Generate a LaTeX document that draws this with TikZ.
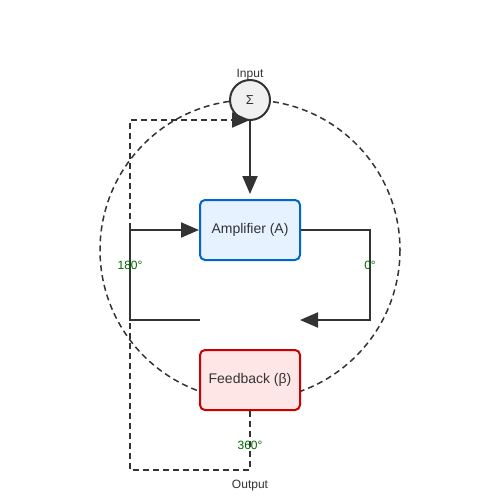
\documentclass[tikz,border=0pt]{standalone}
\usepackage{fontspec}
\setmainfont{Liberation Sans}
\usetikzlibrary{arrows.meta}
\definecolor{edge}{HTML}{333333}
\definecolor{ampfill}{HTML}{E6F2FF}
\definecolor{ampline}{HTML}{0066CC}
\definecolor{fbfill}{HTML}{FFE6E6}
\definecolor{fbline}{HTML}{CC0000}
\definecolor{sumfill}{HTML}{F0F0F0}
\definecolor{phase}{HTML}{006600}
\begin{document}
\begin{tikzpicture}[line cap=butt,line join=miter,>={Triangle[length=18pt,width=15pt]},x=1pt,y=-1pt,
    block/.style={draw,line width=2pt,rounded corners=5pt,minimum width=100pt,minimum height=60pt,font=\fontsize{14}{16}\selectfont,text=edge},
    phaselabel/.style={text=phase,font=\fontsize{12}{14}\selectfont}]
    \useasboundingbox (0,0) rectangle (500,500);
    \draw[color=edge,line width=1.5pt,dash pattern=on 6pt off 4pt] (250,250) circle (150);
    \node [draw=edge,fill=sumfill,circle,line width=2pt,minimum size=40pt,inner sep=0pt,text=edge,font=\fontsize{13}{15}\selectfont] (sum) at (250,100) {Σ};
    \node [text=edge,font=\fontsize{12}{14}\selectfont] (input) at (250,75) {Input};
    \node [block,fill=ampfill,draw=ampline] (amp) at (250,230) {\raisebox{-1pt}{Amplifier (A)}};
    \node [block,fill=fbfill,draw=fbline] (fb) at (250,380) {\raisebox{-1pt}{Feedback (β)}};
    \coordinate (sumin) at (250,120);
    \coordinate (ampin) at (250,194);
    \coordinate (rtop) at (370,230);
    \coordinate (rbot) at (370,320);
    \coordinate (rend) at (300,320);
    \coordinate (lstart) at (200,320);
    \coordinate (lbot) at (130,320);
    \coordinate (ltop) at (130,230);
    \coordinate (obot) at (250,470);
    \coordinate (ocorner) at (130,470);
    \coordinate (otop) at (130,120);
    % forward path
    \draw[->,color=edge,line width=2pt] (sum.south) -- (ampin);
    \draw[->,color=edge,line width=2pt] (amp.east) -- (rtop) -- (rbot) -- (rend);
    \draw[->,color=edge,line width=2pt] (lstart) -- (lbot) -- (ltop) -- (amp.west);
    % output loop
    \draw[->,color=edge,line width=2pt,dash pattern=on 6pt off 4pt] (fb.south) -- (obot) -- (ocorner) -- (otop) -- (sumin);
    \node [phaselabel] (p180) at (130,265) {180°};
    \node [phaselabel] (p0) at (370,265) {0°};
    \node [phaselabel] (p360) at (250,445) {360°};
    \node [text=edge,font=\fontsize{12}{14}\selectfont] (output) at (250,486) {Output};
\end{tikzpicture}
\end{document}
